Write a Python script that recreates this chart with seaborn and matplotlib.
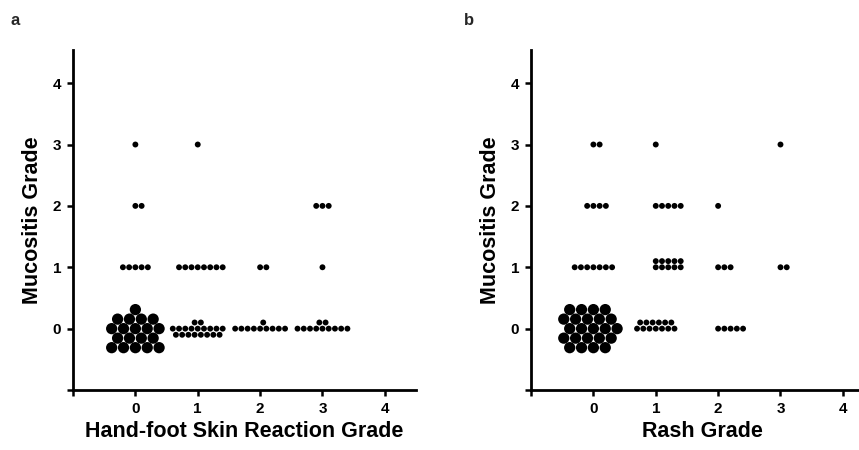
import numpy as np
import pandas as pd
import matplotlib
matplotlib.use("Agg")
import matplotlib.pyplot as plt
import seaborn as sns

sns.set_theme(style="ticks")
plt.rcParams["font.family"] = ["Liberation Sans", "DejaVu Sans"]
plt.rcParams["font.weight"] = "bold"

# ---------------- data (counts of patients per cell) ----------------
mucositis_grades = [0, 1, 2, 3]
hfsr_grades = [0, 1, 2, 3]
rash_grades = [0, 1, 2, 3]
axis_ticks = [-1, 0, 1, 2, 3, 4]
axis_ticklabels = ["", "0", "1", "2", "3", "4"]

# counts at mucositis grade 0, 1, 2, 3 for each HFSR grade
hfsr0_counts = [19, 5, 2, 1]
hfsr1_counts = [19, 8, 0, 1]
hfsr2_counts = [10, 2, 0, 0]
hfsr3_counts = [11, 1, 3, 0]

# counts at mucositis grade 0, 1, 2, 3 for each rash grade
rash0_counts = [23, 7, 4, 2]
rash1_counts = [13, 10, 5, 1]
rash2_counts = [5, 3, 1, 0]
rash3_counts = [0, 2, 0, 1]

# ---------------- layout of dot packing (not data) ----------------
SMALL_DX, SMALL_DY = 0.100, 0.100
BIG_DX, BIG_DY = 0.190, 0.155
rows_a = {(0, 0): {-2: 5, -1: 4, 0: 5, 1: 4, 2: 1},
          (1, 0): {-1: 8, 0: 9, 1: 2},
          (2, 0): {0: 9, 1: 1},
          (3, 0): {0: 9, 1: 2}}
rows_b = {(0, 0): {-2: 4, -1: 5, 0: 5, 1: 5, 2: 4},
          (1, 0): {0: 7, 1: 6},
          (1, 1): {0: 5, 1: 5}}
left_b = {(1, 1), (1, 2), (2, 0), (2, 1), (3, 1)}
mirror_b = {(0, 0)}
big_cells = {(0, 0)}


def build_points(x_grades, count_rows, rows_spec, left_cells, mirror_cells):
    recs = []
    for xg, counts in zip(x_grades, count_rows):
        for yg, n in zip(mucositis_grades, counts):
            if n == 0:
                continue
            cell = (xg, yg)
            big = cell in big_cells
            dx, dy = (BIG_DX, BIG_DY) if big else (SMALL_DX, SMALL_DY)
            spec = rows_spec.get(cell, {0: n})
            assert sum(spec.values()) == n
            for r, k in spec.items():
                half = (r % 2 == 1)
                if cell in left_cells:
                    offs = np.arange(k, dtype=float)
                else:
                    start = (-np.floor(k / 2) + 0.5) if half else -np.floor((k - 1) / 2)
                    offs = start + np.arange(k)
                    if cell in mirror_cells:
                        offs = -offs
                for o in offs:
                    recs.append(dict(x=xg + o * dx, y=yg + r * dy, big=big))
    return pd.DataFrame(recs)


df_a = build_points(hfsr_grades, [hfsr0_counts, hfsr1_counts, hfsr2_counts, hfsr3_counts],
                    rows_a, set(), set())
df_b = build_points(rash_grades, [rash0_counts, rash1_counts, rash2_counts, rash3_counts],
                    rows_b, left_b, mirror_b)

fig = plt.figure(figsize=(8.59, 4.5), dpi=100)
ax_a = fig.add_axes([0.0850, 0.1333, 0.3993, 0.7556])
ax_b = fig.add_axes([0.6182, 0.1333, 0.3993, 0.7556])


def draw(ax, df, xlabel):
    sns.scatterplot(data=df[~df["big"]], x="x", y="y", color="black", s=18,
                    edgecolor="none", linewidth=0, legend=False, ax=ax)
    sns.scatterplot(data=df[df["big"]], x="x", y="y", color="black", s=66,
                    edgecolor="none", linewidth=0, legend=False, ax=ax)
    ax.set_xlim(-1, 4.5)
    ax.set_ylim(-1, 4.54)
    ax.set_xticks(axis_ticks)
    ax.set_xticklabels(axis_ticklabels)
    ax.set_yticks(axis_ticks)
    ax.set_yticklabels(axis_ticklabels)
    for s in ["top", "right"]:
        ax.spines[s].set_visible(False)
    for s in ["left", "bottom"]:
        ax.spines[s].set_linewidth(2.0)
        ax.spines[s].set_color("black")
    ax.tick_params(direction="out", length=4.5, width=1.8, labelsize=11,
                   colors="black", pad=4)
    for lab in ax.get_xticklabels() + ax.get_yticklabels():
        lab.set_fontweight("bold")
    ax.set_xlabel(xlabel, fontsize=15.5, fontweight="bold", labelpad=4, color="black")
    ax.set_ylabel("Mucositis Grade", fontsize=15.5, fontweight="bold", labelpad=7,
                  color="black")
    ax.set_facecolor("white")


draw(ax_a, df_a, "Hand-foot Skin Reaction Grade")
draw(ax_b, df_b, "Rash Grade")

fig.text(0.012, 0.945, "a", fontsize=12, fontweight="bold")
fig.text(0.540, 0.945, "b", fontsize=12, fontweight="bold")

fig.savefig("out.png", dpi=100, facecolor="white")
